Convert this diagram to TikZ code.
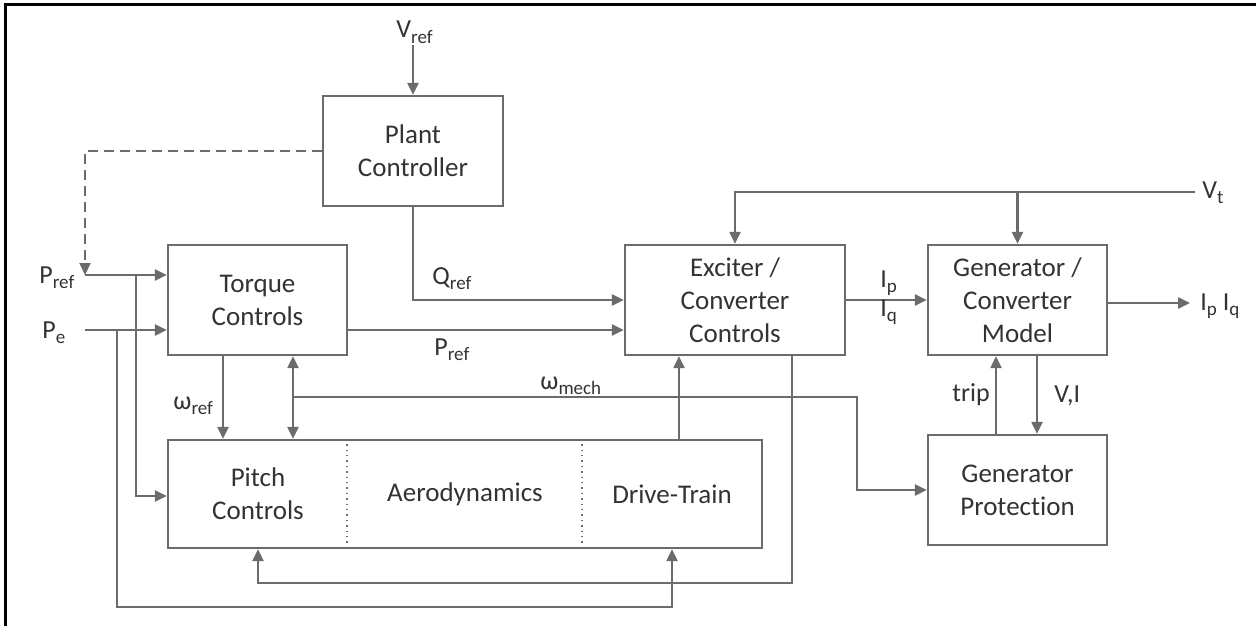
\documentclass[tikz,border=0pt]{standalone}
\usepackage{fontspec}
\setmainfont{Carlito}[Ligatures={NoCommon,NoContextual}]
\usetikzlibrary{arrows.meta}
\definecolor{ln}{HTML}{6B6B6B}
\definecolor{tx}{HTML}{333333}
\newcommand{\sbs}[1]{\raisebox{-2.6pt}{\fontsize{9.5}{10}\selectfont #1}}
\begin{document}
\begin{tikzpicture}[x=0.5pt,y=-0.5pt,
  blk/.style={draw=ln,line width=1.2pt,fill=white,align=center,inner sep=0pt,font=\fontsize{13.5}{16.5}\selectfont,text=tx},
  conn/.style={draw=ln,line width=1.2pt},
  arr/.style={conn,-{Triangle[length=6pt,width=5.5pt]}},
  arrb/.style={conn,{Triangle[length=6pt,width=5.5pt]}-{Triangle[length=6pt,width=5.5pt]}},
  lbl/.style={font=\fontsize{13.5}{16.5}\selectfont,text=tx,inner sep=0pt,align=center},
  tag/.style={font=\fontsize{13}{15}\selectfont,text=tx,inner sep=0pt,anchor=base west},
  divider/.style={draw=ln,dotted,line width=0.7pt}]
\useasboundingbox (0,0) rectangle (1256,626);
\fill[white] (0,0) rectangle (1256,626);
\draw[black,line width=1.5pt] (5,626) -- (5,5) -- (1256,5);

% blocks
\node[blk,minimum width=90pt,minimum height=55pt] (plant) at (413,151) {Plant\\Controller};
\node[blk,minimum width=89.5pt,minimum height=55pt] (torque) at (257.5,300) {Torque\\Controls};
\node[blk,minimum width=110pt,minimum height=55pt] (exciter) at (735,300) {Exciter /\\Converter\\Controls};
\node[blk,minimum width=89.5pt,minimum height=55pt] (gen) at (1017.5,300) {Generator /\\Converter\\Model};
\node[blk,minimum width=89.5pt,minimum height=55pt] (prot) at (1017.5,490) {Generator\\Protection};
\node[blk,minimum width=297pt,minimum height=54pt] (aero) at (465,494) {};
\node[lbl] (pitch) at (258,494) {Pitch\\Controls};
\node[lbl] (aerot) at (465,494) {Aerodynamics};
\node[lbl] (drive) at (672,494) {Drive-Train};

% helper coordinates
\coordinate (vref) at (413,45);
\coordinate (pref) at (85,275);
\coordinate (pe) at (85,330);
\coordinate (bpref) at (136,275);
\coordinate (bpe) at (117,330);
\coordinate (xw) at (223,0);
\coordinate (xm) at (293,0);
\coordinate (jm) at (293,397);
\coordinate (xpm) at (857,0);
\coordinate (yq) at (0,300);
\coordinate (yp) at (0,330);
\coordinate (xdt) at (679,0);
\coordinate (xex) at (792,0);
\coordinate (ylo1) at (0,583);
\coordinate (ylo2) at (0,607);
\coordinate (xpc) at (258,0);
\coordinate (xdt2) at (672,0);
\coordinate (vt) at (1195,192);
\coordinate (yo) at (0,303);
\coordinate (ipq) at (1190,303);
\coordinate (xtrip) at (996,0);
\coordinate (xvi) at (1037,0);
\coordinate (yb) at (0,496);
\coordinate (xd1) at (347,0);
\coordinate (xd2) at (582,0);

\draw[divider] (aero.north -| xd1) -- (aero.south -| xd1);
\draw[divider] (aero.north -| xd2) -- (aero.south -| xd2);

% connectors
\draw[arr] (vref) -- (plant.north);
\draw[arr,line width=1pt,dash pattern=on 5pt off 3pt] (plant.west) -| (pref);
\draw[arr] (pref) -- (torque.west |- pref);
\draw[arr] (pe) -- (torque.west |- pe);
\draw[arr] (bpref) |- (aero.west |- yb);
\draw[arr] (bpe) |- (xdt2 |- ylo2) -- (aero.south -| xdt2);
\draw[arr] (torque.south -| xw) -- (aero.north -| xw);
\draw[arrb] (torque.south -| xm) -- (aero.north -| xm);
\draw[arr] (jm) -| (xpm |- prot.west) -- (prot.west);
\draw[arr] (plant.south) |- (exciter.west |- yq);
\draw[arr] (torque.east |- yp) -- (exciter.west |- yp);
\draw[arr] (aero.north -| xdt) -- (exciter.south -| xdt);
\draw[arr] (exciter.south -| xex) |- (xpc |- ylo1) -- (aero.south -| xpc);
\draw[arr] (vt) -| (exciter.north);
\draw[arr] (gen.north |- vt) -- (gen.north);
\draw[arr] (exciter.east) -- (gen.west);
\draw[arr] (gen.east |- yo) -- (ipq);
\draw[arr] (prot.north -| xtrip) -- (gen.south -| xtrip);
\draw[arr] (gen.south -| xvi) -- (prot.north -| xvi);

% labels
\node[tag] (lpref) at (39,283) {P\sbs{ref}};
\node[tag] (lpe) at (42,338) {P\sbs{e}};
\node[tag] (lvref) at (396,38) {V\sbs{ref}};
\node[tag] (lqref) at (432,284) {Q\sbs{ref}};
\node[tag] (lpref2) at (434,355) {P\sbs{ref}};
\node[tag] (lwref) at (173,409) {ω\sbs{ref}};
\node[tag] (lwmech) at (540,389) {ω\sbs{mech}};
\node[tag] (lip) at (880,287) {I\sbs{p}};
\node[tag] (liq) at (880,316) {I\sbs{q}};
\node[tag] (lvt) at (1202,198) {V\sbs{t}};
\node[tag] (lipq) at (1200,310) {I\sbs{p} I\sbs{q}};
\node[tag] (ltrip) at (952,401) {trip};
\node[tag] (lvi) at (1054,402) {V,I};
\end{tikzpicture}
\end{document}
